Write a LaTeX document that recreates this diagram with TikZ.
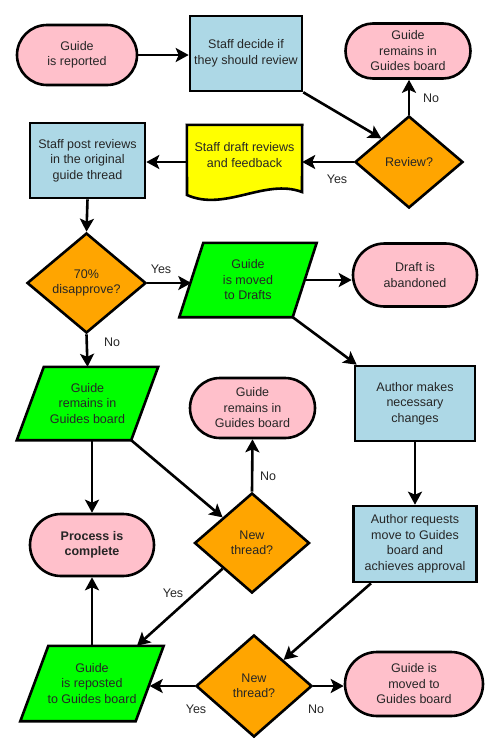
\documentclass[tikz,border=0pt]{standalone}
\usepackage{fontspec}
\setmainfont{Liberation Sans}
\usetikzlibrary{shapes.geometric,shapes.misc,arrows.meta,backgrounds}
\definecolor{cpink}{HTML}{FFC0CB}
\definecolor{cblue}{HTML}{ADD8E6}
\definecolor{cyel}{HTML}{FFFF00}
\definecolor{corange}{HTML}{FFA500}
\definecolor{cgreen}{HTML}{00FF00}
\begin{document}
\begin{tikzpicture}[x=1pt,y=-1pt,
  every node/.style={font=\fontsize{12.5}{15.5}\selectfont, text=black!85, align=center, inner sep=0pt},
  term/.style={rounded rectangle, draw=black, fill=cpink, line width=2.6pt},
  box/.style={rectangle, draw=black, fill=cblue, line width=2.6pt},
  dec/.style={diamond, draw=black, fill=corange, line width=2.6pt},
  ptext/.style={rectangle},
  pshape/.style={draw=black, fill=cgreen, line width=2.6pt, line join=miter},
  docshape/.style={draw=black, fill=cyel, line width=2.6pt, line join=miter},
  conn/.style={line width=2.6pt, -{Stealth[length=13pt,width=14pt,inset=3pt]}},
  lab/.style={font=\fontsize{12.5}{15}\selectfont}]
\useasboundingbox (0,0) rectangle (494,750);

\node[term, minimum width=120pt, minimum height=60pt] (rep) at (77,55) {Guide\\is reported};
\node[box, minimum width=112pt, minimum height=75pt] (dec1) at (246,53.5) {Staff decide if\\they should review};
\node[term, minimum width=125pt, minimum height=55pt] (remt) at (408,51) {Guide\\remains in\\Guides board};
\node[dec, minimum width=108pt, minimum height=92pt] (rev) at (409,162) {Review?};
\node[ptext, minimum width=115pt, minimum height=60pt] (draft) at (244.5,155) {Staff draft reviews\\and feedback};
\node[box, minimum width=115pt, minimum height=75pt] (post) at (87.5,160.5) {Staff post reviews\\in the original\\guide thread};
\node[dec, minimum width=119pt, minimum height=100pt] (dis) at (86.5,283) {70\%\\disapprove?};
\node[ptext, minimum width=113pt, minimum height=74pt] (drafts) at (248,280) {Guide\\is moved\\to Drafts};
\node[term, minimum width=124pt, minimum height=63pt] (aband) at (415,275) {Draft is\\abandoned};
\node[box, minimum width=120pt, minimum height=75pt] (amake) at (415,403.5) {Author makes\\necessary\\changes};
\node[ptext, minimum width=114pt, minimum height=73pt] (remg) at (87.5,403.5) {Guide\\remains in\\Guides board};
\node[term, minimum width=125pt, minimum height=60pt] (remm) at (252.5,408) {Guide\\remains in\\Guides board};
\node[dec, minimum width=115pt, minimum height=100pt] (nt1) at (252,543) {New\\thread?};
\node[term, minimum width=124pt, minimum height=62pt, font=\fontsize{12.5}{15.5}\selectfont\bfseries] (proc) at (92,545) {Process is\\complete};
\node[box, minimum width=123pt, minimum height=76pt] (areq) at (415,544) {Author requests\\move to Guides\\board and\\achieves approval};
\node[ptext, minimum width=115pt, minimum height=75pt] (repo) at (92,683.5) {Guide\\is reposted\\to Guides board};
\node[dec, minimum width=116pt, minimum height=102pt] (nt2) at (254,686) {New\\thread?};
\node[term, minimum width=138pt, minimum height=64pt] (moved) at (414,684) {Guide is\\moved to\\Guides board};

\begin{scope}[on background layer]
\draw[pshape] ([xshift=12pt]drafts.north west) -- ([xshift=12pt]drafts.north east) -- ([xshift=-12pt]drafts.south east) -- ([xshift=-12pt]drafts.south west) -- cycle;
\draw[pshape] ([xshift=13.5pt]remg.north west) -- ([xshift=13.5pt]remg.north east) -- ([xshift=-13.5pt]remg.south east) -- ([xshift=-13.5pt]remg.south west) -- cycle;
\draw[pshape] ([xshift=14pt]repo.north west) -- ([xshift=14pt]repo.north east) -- ([xshift=-14pt]repo.south east) -- ([xshift=-14pt]repo.south west) -- cycle;
\draw[docshape] (draft.north west) -- (draft.north east) -- (302,192) .. controls (265,178) and (225,212) .. (187,195) -- cycle;
\end{scope}

\draw[conn] (rep.east) -- (rep.east -| dec1.west);
\draw[conn] (dec1.south east) -- (rev.north west);
\draw[conn] (rev.north) -- (rev.north |- remt.south);
\draw[conn] (rev.west) -- (rev.west -| draft.east);
\draw[conn] (draft.west |- rev.west) -- (post.east |- rev.west);
\draw[conn] (post.south) -- (dis.north);
\draw[conn] (dis.east) -- (dis.east -| drafts.west);
\draw[conn] (drafts.east) -- (drafts.east -| aband.west);
\draw[conn] ([xshift=-12pt]drafts.south east) -- ([xshift=3pt]amake.north west);
\draw[conn] (dis.south) -- (remg.north);
\draw[conn] (remg.south -| proc.north) -- (proc.north);
\draw[conn] ([xshift=-13.5pt]remg.south east) -- (nt1.north west);
\draw[conn] (nt1.north) -- (remm.south);
\draw[conn] (nt1.south west) -- ([xshift=45pt]repo.north);
\draw[conn] (repo.north -| proc.south) -- (proc.south);
\draw[conn] (amake.south) -- (areq.north);
\draw[conn] ([xshift=-44pt]areq.south) -- (nt2.north east);
\draw[conn] (nt2.west) -- (nt2.west -| repo.east);
\draw[conn] (nt2.east) -- (nt2.east -| moved.west);

\node[lab] (l1) at (431,98) {No};
\node[lab] (l2) at (337,179) {Yes};
\node[lab] (l3) at (161,269) {Yes};
\node[lab] (l4) at (112,342) {No};
\node[lab] (l5) at (268,476) {No};
\node[lab] (l6) at (173,593) {Yes};
\node[lab] (l7) at (196,709) {Yes};
\node[lab] (l8) at (316,709) {No};
\end{tikzpicture}
\end{document}
